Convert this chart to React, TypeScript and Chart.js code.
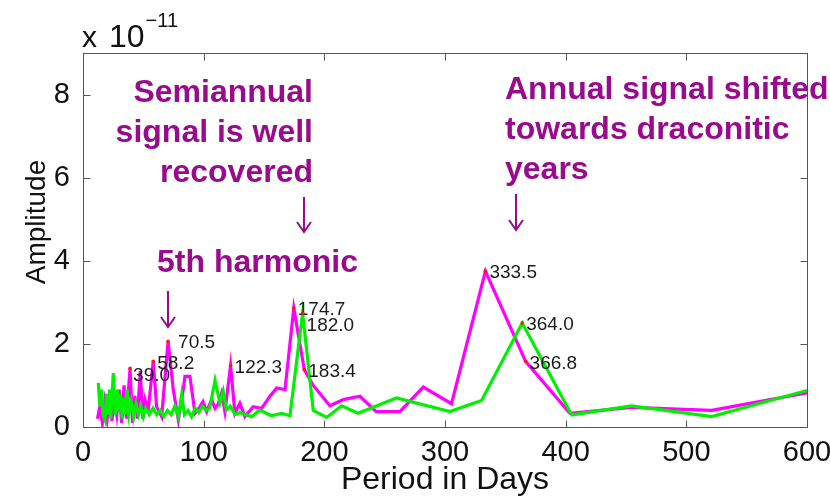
import React, { useEffect, useRef } from "react";
import { Chart, registerables } from "chart.js";

Chart.register(...registerables);

// ---- data ----
const magentaPeriods = [12, 14, 16, 18, 20, 22, 24, 26, 28, 30, 32, 34, 36, 39.0, 41, 43, 45, 47.5, 49.5, 51.4, 54.1, 58.2, 61, 65.2, 70.5, 74.8, 79, 83.1, 84.5, 88.6, 92.8, 96.9, 99.4, 102.5, 106.6, 109.4, 112, 114.9, 117.6, 122.3, 125.9, 130, 134.2, 141, 148, 154.9, 160.5, 167.4, 174.7, 183.4, 190.8, 204.6, 215.7, 229.5, 243, 262.6, 282, 305.4, 333.5, 366.8, 403.5, 454.6, 521, 600];
const magentaAmps = [0.2, 0.5, 0.1, 0.6, 0.2, 0.8, 0.15, 0.7, 0.3, 0.9, 0.1, 1.0, 0.2, 1.41, 0.1, 0.75, 0.2, 1.35, 0.2, 0.66, 0.41, 1.58, 0.49, 0.25, 2.06, 0.9, 0.17, 0.9, 1.22, 1.22, 0.33, 0.49, 0.61, 0.37, 0.66, 0.45, 0.55, 0.82, 0.37, 1.48, 0.33, 0.57, 0.25, 0.49, 0.45, 0.74, 0.94, 0.9, 2.86, 1.38, 1.0, 0.51, 0.66, 0.74, 0.37, 0.37, 0.96, 0.56, 3.75, 1.58, 0.33, 0.47, 0.40, 0.82];

const greenPeriods = [12.7, 14, 15.5, 16.5, 18.2, 19.5, 20.5, 22, 23, 25.1, 26, 27, 28.5, 30, 31, 32.5, 34, 35, 36.5, 38, 40, 42, 44, 46, 48, 50, 52, 55, 58, 61, 64, 67, 70, 73, 76, 79, 81.8, 84, 87, 90, 93, 96, 99, 102, 105, 109.4, 113.5, 116.2, 118.9, 122, 126, 130, 134, 139.8, 146.6, 156, 164.6, 171.5, 182.0, 190.8, 201.9, 214.3, 228, 259.8, 304, 330.3, 364.0, 405, 454.6, 521, 600];
const greenAmps = [1.06, 0.5, 0.9, 0.3, 0.17, 0.8, 0.3, 0.9, 0.2, 1.3, 0.6, 0.3, 0.9, 0.4, 0.8, 0.2, 0.7, 0.3, 0.9, 0.3, 0.6, 0.25, 0.55, 0.3, 0.5, 0.25, 0.45, 0.3, 0.45, 0.3, 0.4, 0.25, 0.4, 0.3, 0.5, 0.25, 0.78, 0.3, 0.4, 0.25, 0.45, 0.35, 0.5, 0.4, 0.45, 1.12, 0.58, 0.86, 0.41, 0.5, 0.3, 0.35, 0.3, 0.25, 0.41, 0.27, 0.33, 0.27, 2.74, 0.4, 0.23, 0.51, 0.33, 0.7, 0.37, 0.64, 2.5, 0.29, 0.51, 0.25, 0.88];

const peakLabels = ["39.0", "58.2", "70.5", "122.3", "174.7", "182.0", "183.4", "333.5", "364.0", "366.8"];
const peakPeriods = [39.0, 58.2, 70.5, 122.3, 174.7, 182.0, 183.4, 333.5, 364.0, 366.8];
const peakAmps = [1.41, 1.58, 2.06, 1.48, 2.86, 2.74, 1.38, 3.75, 2.5, 1.58];

const xTickValues = [0, 100, 200, 300, 400, 500, 600];
const yTickValues = [0, 2, 4, 6, 8];

const xTitle = "Period in Days";
const yTitle = "Amplitude";
const exponentX = "x";
const exponentBase = "10";
const exponentPower = "\u221211";

const noteSemiannual = ["Semiannual", "signal is well", "recovered"];
const noteHarmonic = ["5th harmonic"];
const noteAnnual = ["Annual signal shifted", "towards draconitic", "years"];

// ---- styling / layout (not data) ----
const FONT = "'Liberation Sans', Arial, Helvetica, sans-serif";
const PURPLE = "#990a8c";
const labelOffsets: Record<string, [number, number]> = {
  "39.0": [3, 7],
  "70.5": [10, 1],
  "182.0": [4, 13],
};

const decorPlugin = {
  id: "decor",
  afterDatasetsDraw(chart: any) {
    const { ctx, chartArea, scales } = chart;
    const xs = scales.x;
    const ys = scales.y;
    ctx.save();
    // frame
    ctx.strokeStyle = "#555";
    ctx.lineWidth = 1;
    const l = Math.round(chartArea.left) + 0.5;
    const r = Math.round(chartArea.right) + 0.5;
    const t = Math.round(chartArea.top) + 0.5;
    const b = Math.round(chartArea.bottom) + 0.5;
    ctx.strokeRect(l, t, r - l, b - t);
    // inward ticks
    const tl = 7;
    ctx.beginPath();
    xTickValues.forEach((v) => {
      const px = Math.round(xs.getPixelForValue(v)) + 0.5;
      ctx.moveTo(px, b);
      ctx.lineTo(px, b - tl);
      ctx.moveTo(px, t);
      ctx.lineTo(px, t + tl);
    });
    yTickValues.forEach((v) => {
      const py = Math.round(ys.getPixelForValue(v)) + 0.5;
      ctx.moveTo(l, py);
      ctx.lineTo(l + tl, py);
      ctx.moveTo(r, py);
      ctx.lineTo(r - tl, py);
    });
    ctx.stroke();

    // peak dots & labels
    ctx.font = `19px ${FONT}`;
    ctx.textBaseline = "middle";
    ctx.textAlign = "left";
    peakPeriods.forEach((p, i) => {
      const px = xs.getPixelForValue(p);
      const py = ys.getPixelForValue(peakAmps[i]);
      ctx.fillStyle = "#ff1a00";
      ctx.beginPath();
      ctx.arc(px, py, 1.8, 0, Math.PI * 2);
      ctx.fill();
      const off = labelOffsets[peakLabels[i]] || [4, 2];
      ctx.fillStyle = "#1a1a1a";
      ctx.fillText(peakLabels[i], px + off[0], py + off[1]);
    });

    // annotations
    ctx.fillStyle = PURPLE;
    ctx.font = `bold 32px ${FONT}`;
    ctx.textBaseline = "alphabetic";
    ctx.textAlign = "right";
    noteSemiannual.forEach((s, i) => ctx.fillText(s, 313, 102 + i * 40));
    ctx.textAlign = "left";
    noteAnnual.forEach((s, i) => ctx.fillText(s, 505, 99 + i * 40));
    noteHarmonic.forEach((s, i) => ctx.fillText(s, 157, 272 + i * 40));

    // arrows
    const arrow = (x: number, y1: number, y2: number) => {
      ctx.strokeStyle = PURPLE;
      ctx.lineWidth = 2;
      ctx.beginPath();
      ctx.moveTo(x, y1);
      ctx.lineTo(x, y2);
      ctx.moveTo(x - 7, y2 - 10);
      ctx.lineTo(x, y2);
      ctx.lineTo(x + 7, y2 - 10);
      ctx.stroke();
    };
    arrow(304, 197, 232);
    arrow(516, 194, 230);
    arrow(168, 291, 327);
    ctx.restore();
  },
  afterDraw(chart: any) {
    const { ctx, chartArea } = chart;
    ctx.save();
    ctx.fillStyle = "#111";
    ctx.textBaseline = "alphabetic";
    // x title
    ctx.font = `32px ${FONT}`;
    ctx.textAlign = "center";
    ctx.fillText(xTitle, (chartArea.left + chartArea.right) / 2, 489);
    // y title
    ctx.save();
    ctx.translate(45, (chartArea.top + chartArea.bottom) / 2 - 18);
    ctx.rotate(-Math.PI / 2);
    ctx.font = `28px ${FONT}`;
    ctx.fillText(yTitle, 0, 0);
    ctx.restore();
    // exponent
    ctx.textAlign = "left";
    ctx.font = `30px ${FONT}`;
    ctx.fillText(exponentX, 82, 47);
    ctx.font = `32px ${FONT}`;
    ctx.fillText(exponentBase, 109, 47);
    const w = ctx.measureText(exponentBase).width;
    ctx.font = `20px ${FONT}`;
    ctx.fillText(exponentPower, 109 + w + 1, 27);
    ctx.restore();
  },
};

export default function App() {
  const ref = useRef<HTMLCanvasElement | null>(null);
  useEffect(() => {
    document.body.style.margin = "0";
    const canvas = ref.current;
    if (!canvas) return;
    const chart = new Chart(canvas, {
      type: "line",
      data: {
        datasets: [
          {
            label: "green",
            data: greenPeriods.map((p, i) => ({ x: p, y: greenAmps[i] })),
            borderColor: "#00f000",
            borderWidth: 3.2,
            pointRadius: 0,
            tension: 0,
            fill: false,
          },
          {
            label: "magenta",
            data: magentaPeriods.map((p, i) => ({ x: p, y: magentaAmps[i] })),
            borderColor: "#ff00ff",
            borderWidth: 3.2,
            pointRadius: 0,
            tension: 0,
            fill: false,
          },
        ],
      },
      options: {
        animation: false,
        responsive: false,
        devicePixelRatio: 1,
        events: [],
        layout: { padding: { top: 53, right: 23, left: 0, bottom: 0 } },
        plugins: {
          legend: { display: false },
          tooltip: { enabled: false },
          title: { display: false },
        },
        scales: {
          x: {
            type: "linear",
            min: 0,
            max: 600,
            grid: { display: false },
            border: { display: false },
            afterBuildTicks: (s: any) => {
              s.ticks = xTickValues.map((v) => ({ value: v }));
            },
            afterFit: (s: any) => {
              s.height = 73;
              s.paddingLeft = 0;
              s.paddingRight = 0;
            },
            ticks: {
              color: "#111",
              font: { family: FONT, size: 29 },
              padding: 1,
              maxRotation: 0,
              autoSkip: false,
            },
          },
          y: {
            type: "linear",
            min: 0,
            max: 9,
            grid: { display: false },
            border: { display: false },
            afterBuildTicks: (s: any) => {
              s.ticks = yTickValues.map((v) => ({ value: v }));
            },
            afterFit: (s: any) => {
              s.width = 83;
              s.paddingTop = 0;
              s.paddingBottom = 0;
            },
            ticks: {
              color: "#111",
              font: { family: FONT, size: 29 },
              padding: 5,
              autoSkip: false,
            },
          },
        },
      },
      plugins: [decorPlugin],
    } as any);
    return () => chart.destroy();
  }, []);
  return (
    <div style={{ position: "absolute", left: 0, top: 0, width: 830, height: 500, background: "#fff" }}>
      <canvas ref={ref} width={830} height={500} />
    </div>
  );
}
